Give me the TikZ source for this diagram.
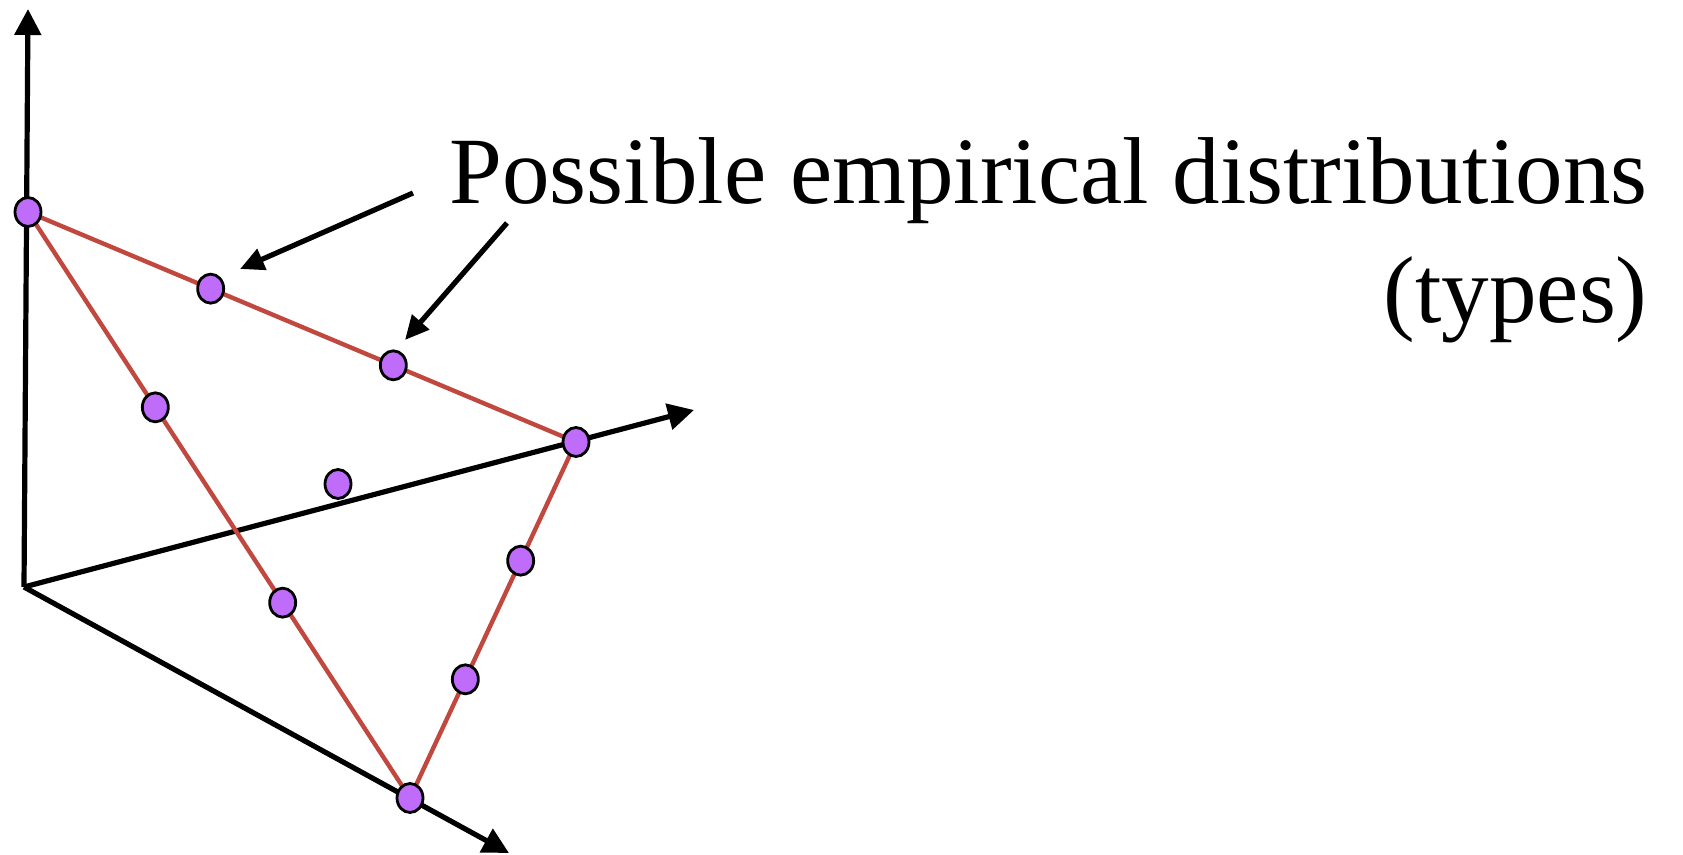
\documentclass[tikz,border=0pt]{standalone}
\usepackage{fontspec}
\setmainfont{Liberation Serif}
\usetikzlibrary{arrows.meta,shapes.geometric,backgrounds,calc}
\definecolor{edgered}{RGB}{192,72,62}
\definecolor{dotpurple}{RGB}{192,108,250}
\begin{document}
\begin{tikzpicture}[x=0.5pt,y=-0.5pt,
  axisline/.style={line width=2.6pt,-{Triangle[length=13pt,width=13pt]}},
  simplexedge/.style={line width=2.2pt,draw=edgered},
  typedot/.style={ellipse,draw=black,line width=1.4pt,fill=dotpurple,minimum width=13pt,minimum height=14.5pt,inner sep=0pt},
  pointer/.style={line width=2.6pt,-{Triangle[length=12pt,width=11pt]}},
  typelabel/.style={font=\fontsize{47.5pt}{59.5pt}\selectfont,inner sep=0pt,anchor=base east}]
\useasboundingbox (0,0) rectangle (1683,855);
% axes end points
\coordinate (O) at (24,587);
\coordinate (zt) at (28,9);
\coordinate (xt) at (694,410);
\coordinate (yt) at (509,853);
% simplex vertices
\node[typedot] (A) at (28,212) {};
\node[typedot] (B) at (576,442) {};
\node[typedot] (C) at (410,798) {};
% points on edges
\node[typedot] (AB1) at ($(A)!1/3!(B)$) {};
\node[typedot] (AB2) at ($(A)!2/3!(B)$) {};
\node[typedot] (AC1) at ($(A)!1/3!(C)$) {};
\node[typedot] (AC2) at ($(A)!2/3!(C)$) {};
\node[typedot] (BC1) at ($(B)!1/3!(C)$) {};
\node[typedot] (BC2) at ($(B)!2/3!(C)$) {};
\node[typedot] (M) at (338,484) {};
\begin{scope}[on background layer]
  \draw[axisline] (O) -- (zt);
  \draw[axisline] (O) -- (xt);
  \draw[axisline] (O) -- (yt);
  \draw[simplexedge] (A.center) -- (B.center) -- (C.center) -- cycle;
\end{scope}
% label
\node[typelabel] (L1) at (1648,204) {Possible empirical distributions};
\node[typelabel] (L2) at (1648,323) {(types)};
% pointers
\coordinate (s1) at (413,193);
\coordinate (p1) at (240,269);
\coordinate (s2) at (507,223);
\coordinate (p2) at (405,340);
\draw[pointer] (s1) -- (p1);
\draw[pointer] (s2) -- (p2);
\end{tikzpicture}
\end{document}
